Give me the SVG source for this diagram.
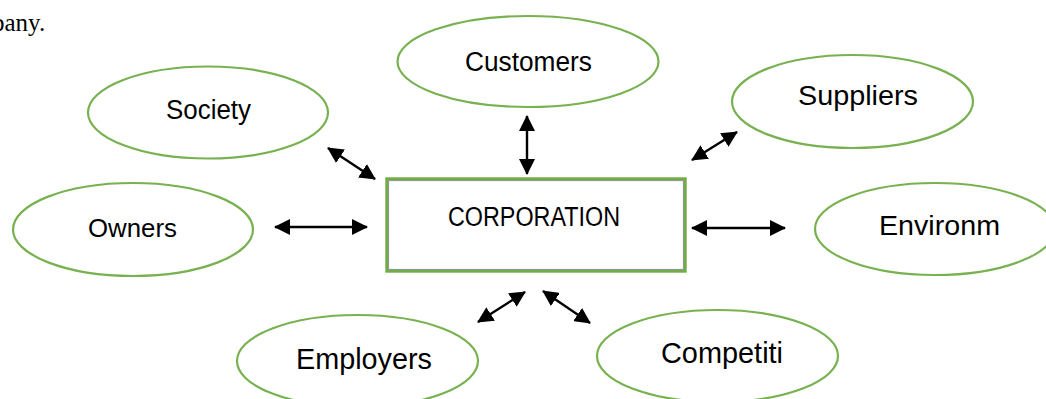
<svg xmlns="http://www.w3.org/2000/svg" width="1046" height="399" viewBox="0 0 1046 399">
<style>
.node ellipse{fill:#fff;stroke:#77B150;stroke-width:2.2}
.lbl{font-family:"Liberation Sans",Arial,sans-serif;fill:#000;text-anchor:middle}
.conn line{stroke:#000;stroke-width:2.4;marker-start:url(#ah);marker-end:url(#ah)}
</style>
<defs>
<marker id="ah" markerUnits="userSpaceOnUse" markerWidth="16" markerHeight="16" refX="15" refY="8" orient="auto-start-reverse" viewBox="0 0 16 16">
<path d="M0,0 L16,8 L0,16 z" fill="#000"/>
</marker>
</defs>
<rect width="1046" height="399" fill="#fff"/>
<text x="-8" y="31" font-family="'Liberation Serif','Times New Roman',serif" font-size="25" fill="#000">pany.</text>

<g id="customers" class="node"><ellipse cx="528" cy="61.5" rx="130.5" ry="45.5"/><text class="lbl" x="528.5" y="71" font-size="27" textLength="127" lengthAdjust="spacingAndGlyphs">Customers</text></g>
<g id="society" class="node"><ellipse cx="208" cy="112.5" rx="120" ry="46"/><text class="lbl" x="208.5" y="119" font-size="27" textLength="85" lengthAdjust="spacingAndGlyphs">Society</text></g>
<g id="suppliers" class="node"><ellipse cx="852.5" cy="101.5" rx="120.5" ry="46.5"/><text class="lbl" x="858" y="105" font-size="28" textLength="120" lengthAdjust="spacingAndGlyphs">Suppliers</text></g>
<g id="owners" class="node"><ellipse cx="133" cy="229.5" rx="120" ry="46.5"/><text class="lbl" x="132.5" y="237" font-size="26" textLength="89" lengthAdjust="spacingAndGlyphs">Owners</text></g>
<g id="environment" class="node"><ellipse cx="935" cy="229" rx="120" ry="46"/><text class="lbl" x="939.5" y="235" font-size="27" textLength="121" lengthAdjust="spacingAndGlyphs">Environm</text></g>
<g id="employers" class="node"><ellipse cx="357.5" cy="361" rx="120.5" ry="46"/><text class="lbl" x="364" y="369" font-size="29" textLength="136" lengthAdjust="spacingAndGlyphs">Employers</text></g>
<g id="competitors" class="node"><ellipse cx="717.5" cy="356" rx="120.5" ry="46"/><text class="lbl" x="722" y="363" font-size="29" textLength="122" lengthAdjust="spacingAndGlyphs">Competiti</text></g>

<g id="corporation">
<rect x="386.7" y="178.7" width="298.6" height="92.6" fill="#fff" stroke="#70AD47" stroke-width="2.8"/>
<rect x="388.6" y="180.6" width="294.8" height="88.8" fill="none" stroke="#8a8a8a" stroke-width="1"/>
<text class="lbl" x="534" y="226" font-size="27" textLength="172" lengthAdjust="spacingAndGlyphs">CORPORATION</text>
</g>

<g id="connectors" class="conn">
<line x1="527" y1="116" x2="527" y2="174"/>
<line x1="328" y1="148" x2="375" y2="179"/>
<line x1="737" y1="132" x2="692" y2="160"/>
<line x1="275" y1="227" x2="367" y2="227"/>
<line x1="692" y1="228" x2="785" y2="228"/>
<line x1="478" y1="322" x2="525" y2="292"/>
<line x1="543" y1="291" x2="590" y2="323"/>
</g>
</svg>
